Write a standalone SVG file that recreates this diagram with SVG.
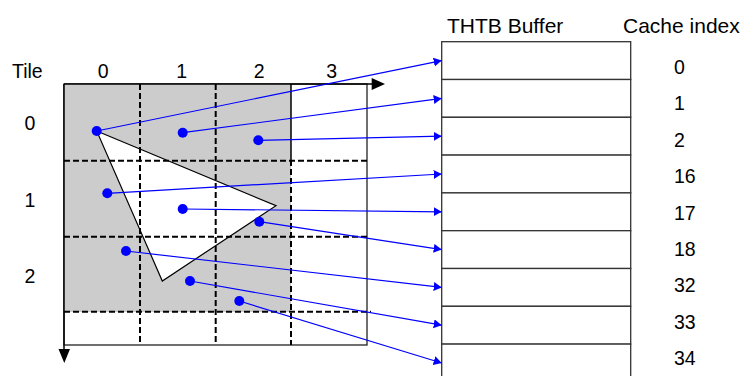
<svg xmlns="http://www.w3.org/2000/svg" width="744" height="376" viewBox="0 0 744 376">
<defs>
<style>
text{font-family:"Liberation Sans",Arial,sans-serif;fill:#000}
.lbl{font-size:19.5px}
.hdr{font-size:21px}
.mid{text-anchor:middle}
.dash{stroke:#000;stroke-width:2;stroke-dasharray:6 3;fill:none}
.conn{stroke:#0000ff;stroke-width:1.2;fill:none}
.dot{fill:#0000ff}
.row{fill:#fff;stroke:#333;stroke-width:1.3}
</style>
<marker id="ah" markerWidth="10" markerHeight="10" refX="8" refY="4.5" orient="auto" markerUnits="userSpaceOnUse">
<path d="M0,0 L8,4.5 L0,9 Z" fill="#0000ff"/>
</marker>
</defs>
<rect width="744" height="376" fill="#fff"/>

<g id="tile-grid">
<rect x="64" y="84" width="303" height="261" fill="#fff" stroke="#222" stroke-width="1.3"/>
<rect x="64" y="84" width="227" height="228" fill="#cccccc"/>
<polygon points="96.7,131 276,205.7 162.3,281" fill="#fff" stroke="#000" stroke-width="1.2"/>
<line x1="140" y1="84" x2="140" y2="345" class="dash"/>
<line x1="215.7" y1="84" x2="215.7" y2="345" class="dash"/>
<line x1="291" y1="84" x2="291" y2="160" stroke="#000" stroke-width="1.5"/>
<line x1="291" y1="160" x2="291" y2="345" class="dash"/>
<line x1="64" y1="160.7" x2="367" y2="160.7" class="dash"/>
<line x1="64" y1="236.7" x2="367" y2="236.7" class="dash"/>
<line x1="64" y1="311.7" x2="371" y2="311.7" class="dash"/>
<line x1="64" y1="84" x2="373" y2="84" stroke="#000" stroke-width="1.5"/>
<polygon points="371.7,78 385,84 371.7,90" fill="#000"/>
<line x1="64" y1="84" x2="64" y2="350" stroke="#000" stroke-width="1.5"/>
<polygon points="58.5,349 70,349 64.3,363" fill="#000"/>
</g>

<g id="labels">
<text x="12" y="78.3" class="lbl">Tile</text>
<text x="103.3" y="78.3" class="lbl mid">0</text>
<text x="181.7" y="78.3" class="lbl mid">1</text>
<text x="259.3" y="78.3" class="lbl mid">2</text>
<text x="331.7" y="78.3" class="lbl mid">3</text>
<text x="30" y="130" class="lbl mid">0</text>
<text x="30" y="206.7" class="lbl mid">1</text>
<text x="30" y="283.3" class="lbl mid">2</text>
</g>

<g id="thtb-buffer">
<text x="447" y="32.5" class="hdr">THTB Buffer</text>
<rect x="441.7" y="41.7" width="189" height="37.8" class="row"/>
<rect x="441.7" y="79.5" width="189" height="37.8" class="row"/>
<rect x="441.7" y="117.3" width="189" height="37.8" class="row"/>
<rect x="441.7" y="155.1" width="189" height="37.8" class="row"/>
<rect x="441.7" y="192.9" width="189" height="37.8" class="row"/>
<rect x="441.7" y="230.7" width="189" height="37.8" class="row"/>
<rect x="441.7" y="268.5" width="189" height="37.8" class="row"/>
<rect x="441.7" y="306.3" width="189" height="37.8" class="row"/>
<rect x="441.7" y="344.1" width="189" height="37.8" class="row"/>
</g>

<g id="cache-index">
<text x="623" y="32.5" class="hdr">Cache index</text>
<text x="674" y="74" class="lbl">0</text>
<text x="674" y="110.4" class="lbl">1</text>
<text x="674" y="146.8" class="lbl">2</text>
<text x="674" y="183.2" class="lbl">16</text>
<text x="674" y="219.6" class="lbl">17</text>
<text x="674" y="256" class="lbl">18</text>
<text x="674" y="292.4" class="lbl">32</text>
<text x="674" y="328.8" class="lbl">33</text>
<text x="674" y="365.2" class="lbl">34</text>
</g>

<g id="connectors">
<line x1="96.7" y1="131" x2="441.7" y2="60.6" class="conn" marker-end="url(#ah)"/>
<line x1="182.7" y1="132.7" x2="441.7" y2="98.4" class="conn" marker-end="url(#ah)"/>
<line x1="258.3" y1="140.3" x2="441.7" y2="136.2" class="conn" marker-end="url(#ah)"/>
<line x1="107.3" y1="193.3" x2="441.7" y2="174" class="conn" marker-end="url(#ah)"/>
<line x1="182.7" y1="209" x2="441.7" y2="211.8" class="conn" marker-end="url(#ah)"/>
<line x1="259.3" y1="221.7" x2="441.7" y2="249.6" class="conn" marker-end="url(#ah)"/>
<line x1="126" y1="251" x2="441.7" y2="287.4" class="conn" marker-end="url(#ah)"/>
<line x1="190" y1="281" x2="441.7" y2="325.2" class="conn" marker-end="url(#ah)"/>
<line x1="239.3" y1="301" x2="441.7" y2="363" class="conn" marker-end="url(#ah)"/>
</g>

<g id="points">
<circle cx="96.7" cy="131" r="5" class="dot"/>
<circle cx="182.7" cy="132.7" r="5" class="dot"/>
<circle cx="258.3" cy="140.3" r="5" class="dot"/>
<circle cx="107.3" cy="193.3" r="5" class="dot"/>
<circle cx="182.7" cy="209" r="5" class="dot"/>
<circle cx="259.3" cy="221.7" r="5" class="dot"/>
<circle cx="126" cy="251" r="5" class="dot"/>
<circle cx="190" cy="281" r="5" class="dot"/>
<circle cx="239.3" cy="301" r="5" class="dot"/>
</g>
</svg>
